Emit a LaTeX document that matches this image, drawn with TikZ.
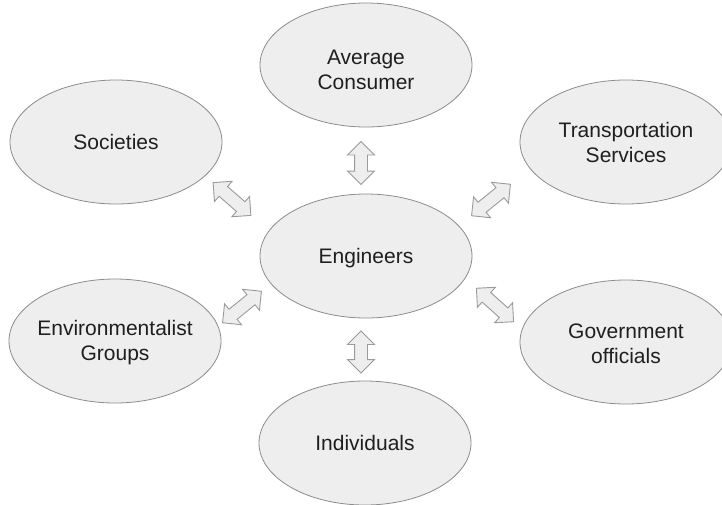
\documentclass[tikz,border=0pt]{standalone}
\usepackage{fontspec}
\setmainfont{Liberation Sans}
\usetikzlibrary{shapes.geometric,shapes.arrows}
\definecolor{bubblefill}{HTML}{EEEEEE}
\definecolor{bubbleline}{HTML}{8C8C8C}
\definecolor{arrowline}{HTML}{9A9A9A}
\begin{document}
\begin{tikzpicture}[x=1pt,y=-1pt,
  party/.style={ellipse, draw=bubbleline, fill=bubblefill, line width=0.8pt,
    inner sep=0pt, minimum width=212pt, minimum height=124pt},
  tag/.style={align=center, font=\fontsize{21}{25}\selectfont, text=black!88, inner sep=0pt},
  link/.style={double arrow, draw=arrowline, fill=bubblefill, line width=0.9pt,
    inner sep=6pt, double arrow head extend=7pt, minimum width=26pt}
]
\useasboundingbox (0,0) rectangle (722,504);
% stakeholders
\node[party] (eng) at (366,256) {};
\node[party] (cons) at (366,65) {};
\node[party] (soc) at (116,142) {};
\node[party] (trans) at (626,142) {};
\node[party] (env) at (115,341) {};
\node[party] (gov) at (626,342) {};
\node[party] (ind) at (365,443) {};
\node[tag] (eng-t) at ([yshift=-2pt]eng) {Engineers};
\node[tag] (cons-t) at ([yshift=-5pt]cons) {Average\\Consumer};
\node[tag] (soc-t) at (soc) {Societies};
\node[tag] (trans-t) at (trans) {Transportation\\Services};
\node[tag] (env-t) at ([yshift=-2pt]env) {Environmentalist\\Groups};
\node[tag] (gov-t) at ([yshift=-2pt]gov) {Government\\officials};
\node[tag] (ind-t) at (ind) {Individuals};
% two-way relations around the engineers
\node[link, minimum height=43pt, rotate=90] (a-cons) at (361,163) {};
\node[link, minimum height=42pt, rotate=90] (a-ind) at (361,352) {};
\node[link, minimum height=50pt, rotate=-41] (a-soc) at (232,199) {};
\node[link, minimum height=50pt, rotate=39] (a-trans) at (491,200) {};
\node[link, minimum height=50pt, rotate=39] (a-env) at (242,307) {};
\node[link, minimum height=50pt, rotate=-42] (a-gov) at (495,305) {};
\end{tikzpicture}
\end{document}
